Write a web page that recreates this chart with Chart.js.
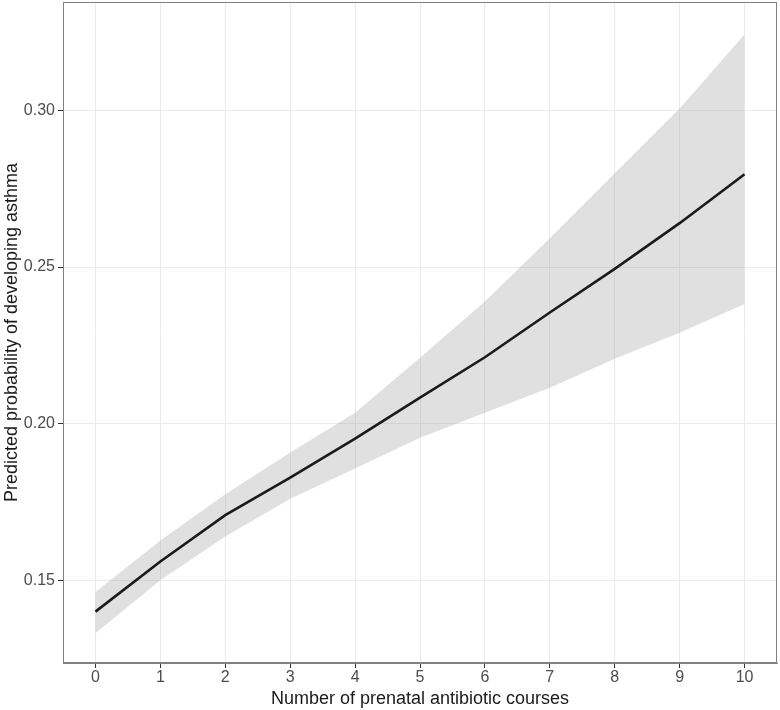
<!DOCTYPE html>
<html>
<head>
<meta charset="utf-8">
<script src="https://cdn.jsdelivr.net/npm/chart.js@4"></script>
<style>
  html, body { margin: 0; padding: 0; background: #ffffff; }
  #wrap { width: 780px; height: 710px; position: relative; }
</style>
</head>
<body>
<div id="wrap"><canvas id="c" width="780" height="710"></canvas></div>
<script>
const courses = [0, 1, 2, 3, 4, 5, 6, 7, 8, 9, 10];
const predicted = [0.1400, 0.1560, 0.1708, 0.1828, 0.1952, 0.2083, 0.2212, 0.2355, 0.2494, 0.2640, 0.2796];
const upperCI = [0.1463, 0.1627, 0.1775, 0.1908, 0.2035, 0.2210, 0.2390, 0.2592, 0.2799, 0.3006, 0.3242];
const lowerCI = [0.1331, 0.1500, 0.1640, 0.1760, 0.1857, 0.1955, 0.2035, 0.2115, 0.2207, 0.2290, 0.2382];
const xTicks = [0, 1, 2, 3, 4, 5, 6, 7, 8, 9, 10];
const yTicks = [0.15, 0.20, 0.25, 0.30];

const pts = arr => courses.map((c, i) => ({ x: c, y: arr[i] }));
const FONT = '"Liberation Sans", Arial, Helvetica, sans-serif';

const panelBorder = {
  id: 'panelBorder',
  afterDraw(chart) {
    const a = chart.chartArea, ctx = chart.ctx;
    ctx.save();
    ctx.strokeStyle = '#808080';
    ctx.lineWidth = 1;
    ctx.strokeRect(a.left + 0.5, a.top + 0.5, a.right - a.left - 1, a.bottom - a.top - 1);
    ctx.restore();
  }
};
const whiteBg = {
  id: 'whiteBg',
  beforeDraw(chart) {
    const ctx = chart.ctx;
    ctx.save();
    ctx.fillStyle = '#ffffff';
    ctx.fillRect(0, 0, chart.width, chart.height);
    ctx.restore();
  }
};

new Chart(document.getElementById('c'), {
  type: 'line',
  data: {
    datasets: [
      {
        label: 'Predicted',
        data: pts(predicted),
        borderColor: '#1a1a1a',
        borderWidth: 2.6,
        pointRadius: 0,
        fill: false,
        tension: 0,
        order: 0
      },
      {
        label: 'Upper',
        data: pts(upperCI),
        borderWidth: 0,
        borderColor: 'rgba(0,0,0,0)',
        backgroundColor: 'rgba(153,153,153,0.3)',
        pointRadius: 0,
        fill: '+1',
        tension: 0,
        order: 1
      },
      {
        label: 'Lower',
        data: pts(lowerCI),
        borderWidth: 0,
        borderColor: 'rgba(0,0,0,0)',
        pointRadius: 0,
        fill: false,
        tension: 0,
        order: 2
      }
    ]
  },
  options: {
    responsive: false,
    animation: false,
    layout: { padding: { top: 2, right: 3, left: 0, bottom: 0 } },
    plugins: {
      legend: { display: false },
      tooltip: { enabled: false }
    },
    scales: {
      x: {
        type: 'linear',
        min: -0.5,
        max: 10.5,
        afterBuildTicks: s => { s.ticks = xTicks.map(v => ({ value: v })); },
        afterFit: s => { s.height = 47; s.paddingLeft = 0; s.paddingRight = 0; },
        grid: { color: '#ebebeb', lineWidth: 1, tickLength: 5, tickColor: '#333333', drawTicks: true },
        border: { color: '#808080', width: 1 },
        ticks: {
          color: '#4d4d4d',
          font: { family: FONT, size: 16 },
          padding: 0,
          maxRotation: 0,
          autoSkip: false,
          callback: v => String(v)
        },
        title: {
          display: true,
          text: 'Number of prenatal antibiotic courses',
          color: '#1a1a1a',
          font: { family: FONT, size: 18 },
          padding: { top: 0, bottom: 0 }
        }
      },
      y: {
        type: 'linear',
        min: 0.1236,
        max: 0.3346,
        afterBuildTicks: s => { s.ticks = yTicks.map(v => ({ value: v })); },
        afterFit: s => { s.width = 63; s.paddingTop = 0; s.paddingBottom = 0; },
        grid: { color: '#ebebeb', lineWidth: 1, tickLength: 5, tickColor: '#333333', drawTicks: true },
        border: { color: '#808080', width: 1 },
        ticks: {
          color: '#4d4d4d',
          font: { family: FONT, size: 16 },
          padding: 3,
          autoSkip: false,
          callback: v => Number(v).toFixed(2)
        },
        title: {
          display: true,
          text: 'Predicted probability of developing asthma',
          color: '#1a1a1a',
          font: { family: FONT, size: 18 },
          padding: { top: 1, bottom: 0 }
        }
      }
    }
  },
  plugins: [whiteBg, panelBorder]
});
</script>
</body>
</html>
